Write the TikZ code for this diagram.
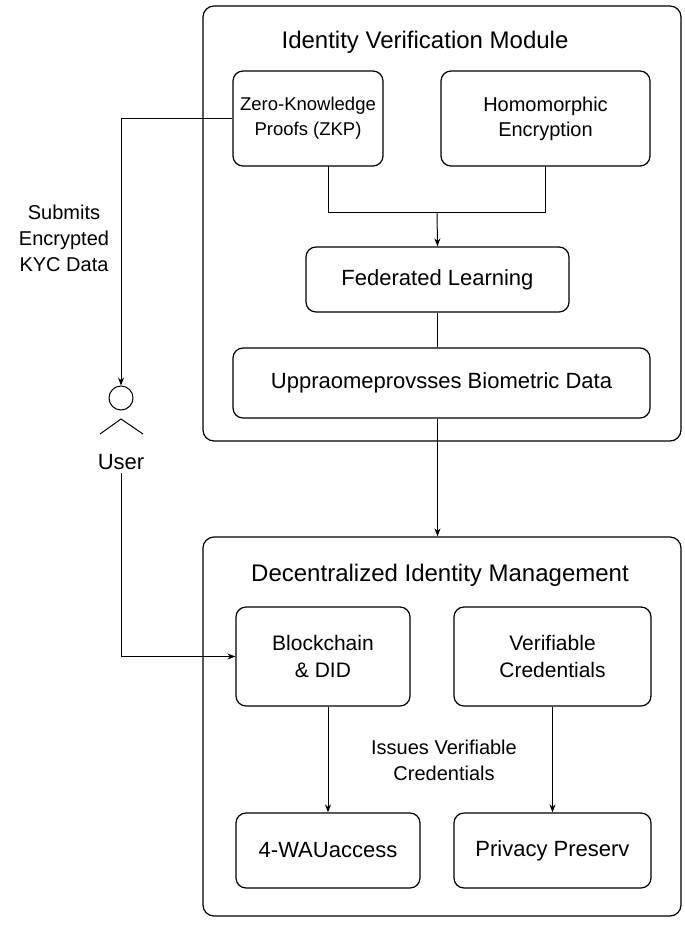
\documentclass[tikz,border=0pt]{standalone}
\usepackage{fontspec}
\setmainfont{Liberation Sans}
\usetikzlibrary{arrows.meta}
\begin{document}
\begin{tikzpicture}[x=1pt,y=-1pt,
 box/.style={draw,rounded corners=10pt,line width=1.2pt,align=center,font=\fontsize{20}{25}\selectfont},
 outer/.style={draw,rounded corners=11pt,line width=1.2pt},
 title/.style={font=\fontsize{24}{28}\selectfont},
 lbl/.style={align=center,font=\fontsize{20}{26}\selectfont},
 arr/.style={-{Stealth[length=8pt,width=6pt]},line width=1pt},
 ln/.style={line width=1pt}]
\useasboundingbox (0,0) rectangle (685,927);
\node[outer,minimum width=478pt,minimum height=435pt] (m1) at (442,223.5) {};
\node[title] (t1) at (425,42) {Identity Verification Module};
\node[box,minimum width=150pt,minimum height=95pt,font=\fontsize{18.5}{25}\selectfont] (zkp) at (308,118.5) {Zero-Knowledge\\Proofs (ZKP)};
\node[box,minimum width=209pt,minimum height=95pt] (he) at (545.5,118.5) {Homomorphic\\Encryption};
\node[box,minimum width=263pt,minimum height=65pt,font=\fontsize{22}{26}\selectfont] (fl) at (437.5,279.5) {Federated Learning};
\node[box,minimum width=417pt,minimum height=70pt,font=\fontsize{22}{26}\selectfont] (bio) at (441.5,383) {Uppraomeprovsses Biometric Data};
\node[outer,minimum width=478pt,minimum height=379pt] (m2) at (442,726.5) {};
\node[title] (t2) at (440,575) {Decentralized Identity Management};
\node[box,minimum width=174pt,minimum height=99pt,font=\fontsize{21}{27}\selectfont] (bc) at (323,656.5) {Blockchain\\\& DID};
\node[box,minimum width=197pt,minimum height=99pt,font=\fontsize{21}{27}\selectfont] (vc) at (552.5,656.5) {Verifiable\\Credentials};
\node[box,minimum width=184pt,minimum height=75pt,font=\fontsize{22}{26}\selectfont] (wau) at (328,850.5) {4-WAUaccess};
\node[box,minimum width=197pt,minimum height=75pt,font=\fontsize{22}{26}\selectfont] (pp) at (552.5,850.5) {Privacy Preserv};
\node[lbl] (iss) at (444,760) {Issues Verifiable\\Credentials};
\node[lbl] (sub) at (64,238) {Submits\\Encrypted\\KYC Data};
\node[draw,circle,minimum size=24pt,inner sep=0pt,line width=1pt] (head) at (121,398) {};
\draw[ln] (100,434) -- (121,419) -- (143,434);
\node[lbl,font=\fontsize{22}{26}\selectfont] (user) at (121,462) {User};
\coordinate (j) at (437,212);
\draw[ln] (328,166) |- (j);
\draw[ln] (545,166) |- (j);
\draw[arr] (j) -- (fl.north);
\draw[ln] (fl.south) -- (bio.north -| fl.south);
\draw[arr] (bio.south -| fl.south) -- (m2.north -| fl.south);
\draw[arr] (zkp.west) -| (head.north);
\draw[arr] (user.south) |- (bc.west);
\draw[arr] (bc.south -| wau.north) -- (wau.north);
\draw[arr] (vc.south) -- (pp.north);
\end{tikzpicture}
\end{document}
